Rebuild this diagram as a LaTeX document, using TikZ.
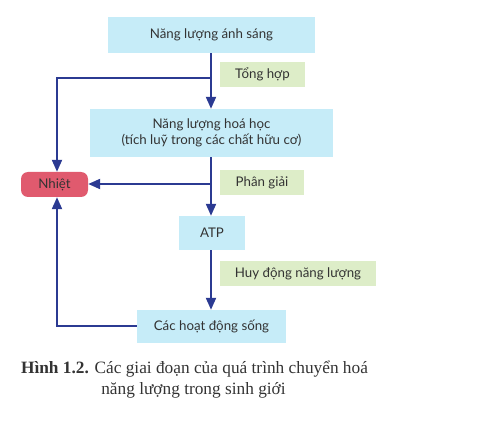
\documentclass[tikz,border=0pt]{standalone}
\usepackage{fontspec}
\setmainfont{Liberation Serif}
\newfontfamily\diafont{Lato}
\usetikzlibrary{arrows.meta,positioning}
\definecolor{boxcyan}{HTML}{C6ECF8}
\definecolor{boxgreen}{HTML}{DDEDC8}
\definecolor{heatred}{HTML}{E05A6E}
\definecolor{flowblue}{HTML}{2B3A92}
\definecolor{txtgray}{HTML}{333333}
\tikzset{
  x=1pt,y=-1pt,
  diatext/.style={font=\diafont\fontsize{13.3}{16}\selectfont,text=txtgray},
  stagebox/.style={diatext,fill=boxcyan,draw=none,align=center,inner sep=0pt},
  labelbox/.style={diatext,fill=boxgreen,draw=none,inner sep=0pt},
  heatbox/.style={diatext,fill=heatred,draw=none,rounded corners=7pt,inner sep=0pt},
  flow/.style={draw=flowblue,line width=2pt,-{Triangle[length=12pt,width=10pt]}},
}
\begin{document}
\begin{tikzpicture}
\useasboundingbox (0,0) rectangle (477,425);
% boxes
\node[stagebox,minimum width=207pt,minimum height=36pt] (light) at (211.5,35) {Năng lượng ánh sáng};
\node[labelbox,minimum width=85pt,minimum height=25pt] (tonghop) at (262.5,74.5) {Tổng hợp};
\node[stagebox,minimum width=243pt,minimum height=48pt] (chem) at (211.5,133) {Năng lượng hoá học\\(tích luỹ trong các chất hữu cơ)};
\node[heatbox,minimum width=67pt,minimum height=25pt] (heat) at (54.5,184.5) {Nhiệt};
\node[labelbox,minimum width=84pt,minimum height=25pt] (phangiai) at (262,182.5) {Phân giải};
\node[stagebox,minimum width=66pt,minimum height=34pt] (atp) at (212,233) {ATP};
\node[labelbox,minimum width=156pt,minimum height=25pt] (huydong) at (298,273.5) {Huy động năng lượng};
\node[stagebox,minimum width=149pt,minimum height=33pt] (song) at (211.5,326.5) {Các hoạt động sống};
% junction coordinates
\coordinate (j1) at (211,78);
\coordinate (c1) at (57,78);
\coordinate (j2) at (211,184);
\coordinate (c2) at (57,326);
% connectors
\draw[flow] (light.south -| j1) -- (chem.north -| j1);
\draw[flow] (j1) -- (c1) -- (heat.north -| c1);
\draw[flow] (chem.south -| j1) -- (atp.north -| j1);
\draw[flow] (j2) -- (heat.east |- j2);
\draw[flow] (atp.south -| j1) -- (song.north -| j1);
\draw[flow] (song.west |- c2) -- (c2) -- (heat.south -| c2);
% caption
\node[anchor=base,font=\fontsize{17.3}{20}\selectfont,text=txtgray] (cap1) at (194.5,373) {\textbf{Hình 1.2.} Các giai đoạn của quá trình chuyển hoá};
\node[anchor=base,font=\fontsize{17.3}{20}\selectfont,text=txtgray] (cap2) at (193.5,394) {năng lượng trong sinh giới};
\end{tikzpicture}
\end{document}
